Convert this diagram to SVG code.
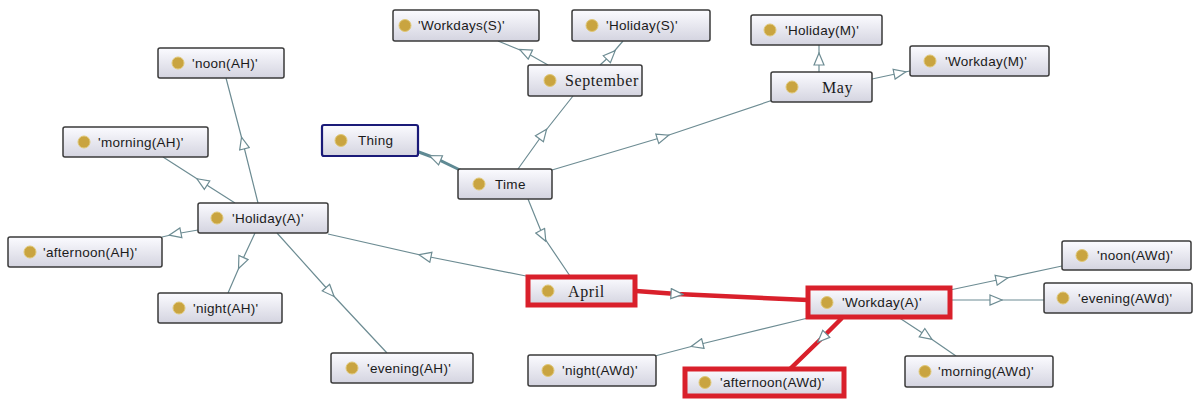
<svg xmlns="http://www.w3.org/2000/svg" width="1197" height="400" viewBox="0 0 1197 400">
  <style>
    .node rect.box { fill: url(#boxFill); stroke: #3a3a3a; stroke-width: 1.5; }
    .node circle { fill: #c9a440; stroke: #e0c878; stroke-width: 1; }
    .node text { font-family: "Liberation Sans", Arial, sans-serif; font-size: 13.5px; letter-spacing: 0.3px; fill: #1a1a1a; dominant-baseline: central; }
    .node text.serif { font-family: "Liberation Serif", "Times New Roman", serif; font-size: 16px; letter-spacing: 0.6px; }
    .node rect.hl { fill: none; stroke: #d9202b; stroke-width: 5; }
    .node rect.top { stroke: #1a1a78; stroke-width: 2.2; }
    .edge { fill: none; stroke: #6d8c93; stroke-width: 1.2; marker-mid: url(#tri); }
    .edge.thick { stroke-width: 3; stroke: #5f8a94; }
    .edge.red { stroke: #d9202b; stroke-width: 4.5; }
  </style>
  <defs>
    <linearGradient id="boxFill" x1="0" y1="0" x2="0" y2="1">
      <stop offset="0" stop-color="#fbfbff"/>
      <stop offset="1" stop-color="#d4d4e0"/>
    </linearGradient>
    <marker id="tri" markerUnits="userSpaceOnUse" markerWidth="14" markerHeight="12" refX="6" refY="5" orient="auto" viewBox="-1 -1 14 12">
      <path d="M0,0 L12,5 L0,10 Z" fill="#ffffff" stroke="#6d8c93" stroke-width="1.2"/>
    </marker>
  </defs>
  <rect width="1197" height="400" fill="#ffffff"/>

  <!-- connectors: the hollow triangle sits on the middle vertex of each path -->
  <g id="connectors">
    <path class="edge thick" d="M462,171 L435,158 L416,151"/>
    <path class="edge" d="M518,169 L543,134 L573,96"/>
    <path class="edge" d="M548,65 L525,52 L498,41"/>
    <path class="edge" d="M600,65 L611,55 L623,41"/>
    <path class="edge" d="M552,170 L663,137 L773,100"/>
    <path class="edge" d="M819,72 L819,59 L819,45"/>
    <path class="edge" d="M872,79 L900,73 L910,71"/>
    <path class="edge" d="M528,199 L543,236 L570,276"/>
    <path class="edge" d="M526,276 L425,256 L328,234"/>
    <path class="edge" d="M258,203 L243,143 L226,78"/>
    <path class="edge" d="M235,203 L202,182 L163,157"/>
    <path class="edge" d="M198,230 L175,234 L162,237"/>
    <path class="edge" d="M255,233 L241,263 L228,293"/>
    <path class="edge" d="M277,233 L330,292 L387,353"/>
    <path class="edge red" d="M636,291 L677,294 L808,300"/>
    <path class="edge" d="M808,318 L697,345 L655,356"/>
    <path class="edge red" d="M842,318 L822,338 L790,369"/>
    <path class="edge" d="M950,290 L1002,279 L1062,266"/>
    <path class="edge" d="M950,300 L996,300 L1044,300"/>
    <path class="edge" d="M898,317 L927,336 L956,356"/>
  </g>

  <g id="noonAH" class="node"><rect class="box" x="158" y="48" width="126" height="30" rx="2"/><circle cx="178" cy="63" r="6"/><text x="192" y="63">'noon(AH)'</text></g>
  <g id="morningAH" class="node"><rect class="box" x="63" y="127" width="145" height="30" rx="2"/><circle cx="84" cy="142" r="6"/><text x="98" y="142">'morning(AH)'</text></g>
  <g id="thing" class="node"><rect class="box top" x="322" y="125" width="96" height="31" rx="2"/><circle cx="341" cy="140.5" r="6"/><text x="358" y="140.5">Thing</text></g>
  <g id="workdaysS" class="node"><rect class="box" x="393" y="10" width="146" height="31" rx="2"/><circle cx="405" cy="25.5" r="6"/><text x="418" y="25.5">'Workdays(S)'</text></g>
  <g id="holidayS" class="node"><rect class="box" x="572" y="10" width="138" height="31" rx="2"/><circle cx="592" cy="25.5" r="6"/><text x="606" y="25.5">'Holiday(S)'</text></g>
  <g id="september" class="node"><rect class="box" x="528" y="65" width="114" height="31" rx="2"/><circle cx="550" cy="80.5" r="6"/><text class="serif" x="565" y="80.5">September</text></g>
  <g id="time" class="node"><rect class="box" x="458" y="169" width="94" height="30" rx="2"/><circle cx="479" cy="184" r="6"/><text x="495" y="184">Time</text></g>
  <g id="holidayM" class="node"><rect class="box" x="751" y="15" width="131" height="30" rx="2"/><circle cx="770" cy="30" r="6"/><text x="785" y="30">'Holiday(M)'</text></g>
  <g id="may" class="node"><rect class="box" x="771" y="72" width="101" height="30" rx="2"/><circle cx="792" cy="87" r="6"/><text class="serif" x="822" y="87">May</text></g>
  <g id="workdayM" class="node"><rect class="box" x="910" y="46" width="139" height="30" rx="2"/><circle cx="930" cy="61" r="6"/><text x="945" y="61">'Workday(M)'</text></g>
  <g id="holidayA" class="node"><rect class="box" x="198" y="203" width="130" height="30" rx="2"/><circle cx="217" cy="218" r="6"/><text x="232" y="218">'Holiday(A)'</text></g>
  <g id="afternoonAH" class="node"><rect class="box" x="8" y="237" width="154" height="30" rx="2"/><circle cx="30" cy="252" r="6"/><text x="43" y="252">'afternoon(AH)'</text></g>
  <g id="nightAH" class="node"><rect class="box" x="158" y="293" width="124" height="30" rx="2"/><circle cx="179" cy="308" r="6"/><text x="193" y="308">'night(AH)'</text></g>
  <g id="eveningAH" class="node"><rect class="box" x="331" y="353" width="142" height="30" rx="2"/><circle cx="352" cy="368" r="6"/><text x="367" y="368">'evening(AH)'</text></g>
  <g id="april" class="node"><rect class="box" x="528" y="277" width="107" height="28" rx="2"/><rect class="hl" x="528" y="277" width="107" height="28"/><circle cx="548" cy="291" r="6"/><text class="serif" x="568" y="291">April</text></g>
  <g id="workdayA" class="node"><rect class="box" x="808" y="288" width="142" height="29" rx="2"/><rect class="hl" x="808" y="288" width="142" height="29"/><circle cx="827" cy="302.5" r="6"/><text x="842" y="302.5">'Workday(A)'</text></g>
  <g id="nightAWd" class="node"><rect class="box" x="528" y="355" width="128" height="31" rx="2"/><circle cx="548" cy="370.5" r="6"/><text x="562" y="370.5">'night(AWd)'</text></g>
  <g id="afternoonAWd" class="node"><rect class="box" x="685" y="369" width="159" height="27" rx="2"/><rect class="hl" x="685" y="369" width="159" height="27"/><circle cx="705" cy="382.5" r="6"/><text x="720" y="382.5">'afternoon(AWd)'</text></g>
  <g id="noonAWd" class="node"><rect class="box" x="1062" y="241" width="129" height="29" rx="2"/><circle cx="1082" cy="255.5" r="6"/><text x="1097" y="255.5">'noon(AWd)'</text></g>
  <g id="eveningAWd" class="node"><rect class="box" x="1044" y="283" width="148" height="30" rx="2"/><circle cx="1063" cy="298" r="6"/><text x="1078" y="298">'evening(AWd)'</text></g>
  <g id="morningAWd" class="node"><rect class="box" x="905" y="356" width="148" height="31" rx="2"/><circle cx="925" cy="371.5" r="6"/><text x="938" y="371.5">'morning(AWd)'</text></g>
</svg>
